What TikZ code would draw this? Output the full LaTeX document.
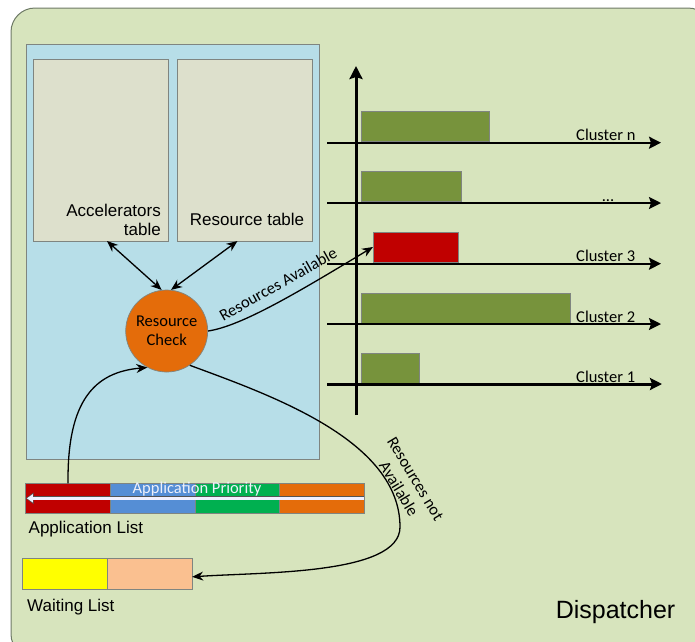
\documentclass[tikz,border=0pt]{standalone}
\usepackage{fontspec}
\setmainfont{Liberation Sans}
\newfontfamily\calibri{Carlito}
\usetikzlibrary{arrows.meta}

\definecolor{outerbg}{HTML}{D7E4BD}
\definecolor{outerline}{HTML}{6E7A66}
\definecolor{panelbg}{HTML}{B7DEE8}
\definecolor{tablebg}{HTML}{DDE0CC}
\definecolor{boxline}{HTML}{7F8580}
\definecolor{checkorange}{HTML}{E46C0A}
\definecolor{loadgreen}{HTML}{77933C}
\definecolor{busyred}{HTML}{C00000}
\definecolor{appblue}{HTML}{558ED5}
\definecolor{appgreen}{HTML}{00B050}
\definecolor{appyellow}{HTML}{FFFF00}
\definecolor{apppeach}{HTML}{FAC090}
\definecolor{prioritytext}{HTML}{EEF0FA}

\begin{document}
\begin{tikzpicture}[x=1pt,y=-1pt,
  panel/.style={draw=boxline, line width=0.8pt, inner sep=0pt, outer sep=0pt, anchor=north west},
  tablebox/.style={panel, fill=tablebg, minimum width=135pt, minimum height=182pt},
  bar/.style={draw=boxline, line width=0.7pt, inner sep=0pt, outer sep=0pt, anchor=north west, minimum height=30pt},
  seg/.style={bar, minimum width=84.7pt},
  arialtext/.style={font=\fontsize{17}{18.5}\selectfont, inner sep=0pt},
  caltext/.style={font=\calibri\fontsize{16.5}{19.5}\selectfont, inner sep=0pt},
  link/.style={line width=1.3pt, draw=black},
  biarrow/.style={link, {Stealth[length=11pt,width=9pt]}-{Stealth[length=11pt,width=9pt]}},
  flow/.style={link, -{Stealth[length=11pt,width=9pt]}},
  haxis/.style={line width=2pt, -{Stealth[length=12pt,width=12pt,inset=2pt]}},
  vaxis/.style={line width=3pt, -{Stealth[length=13pt,width=13pt,inset=2pt]}}
]
\useasboundingbox (0,0) rectangle (695,641);

% dispatcher frame
\begin{scope}
  \clip (0,0) rectangle (695,641);
  \draw[fill=outerbg, draw=outerline, line width=1pt, rounded corners=24pt] (11,8) rectangle (712,658);
\end{scope}

% resource check panel with its two tables
\node[panel, fill=panelbg, minimum width=293pt, minimum height=415pt] (panel) at (26,44) {};
\node[tablebox] (acc) at (33,59) {};
\node[tablebox] (res) at (177,59) {};
\node[arialtext, align=right, anchor=east] (acclabel) at (161,220) {Accelerators\\table};
\node[arialtext] (reslabel) at (247,219) {Resource table};

\node[circle, fill=checkorange, draw=boxline, line width=0.7pt, minimum size=82pt, inner sep=0pt,
      caltext, align=center] (rc) at (166.7,331) {Resource\\Check};

\draw[biarrow] ([xshift=6.5pt]acc.south) -- (rc.97);
\draw[biarrow] ([xshift=-7pt]res.south) -- (rc.84);

% cluster load chart
\node[bar, fill=loadgreen, minimum width=128pt] (cn) at (361,111) {};
\node[bar, fill=loadgreen, minimum width=100pt] (cd) at (361,171.5) {};
\node[bar, fill=busyred, minimum width=85pt] (c3) at (373,232) {};
\node[bar, fill=loadgreen, minimum width=209pt] (c2) at (361,293) {};
\node[bar, fill=loadgreen, minimum width=58pt] (c1) at (361,353) {};

\coordinate (hn0) at (327,142.7); \coordinate (hn1) at (661,142.7);
\coordinate (hd0) at (327,203);   \coordinate (hd1) at (661,203);
\coordinate (h30) at (327,263.7); \coordinate (h31) at (661,263.7);
\coordinate (h20) at (327,324);   \coordinate (h21) at (661,324);
\coordinate (h10) at (327,384);   \coordinate (h11) at (662,384);
\coordinate (vb) at (356,415);    \coordinate (vt) at (356,66);
\draw[haxis] (hn0) -- (hn1);
\draw[haxis] (hd0) -- (hd1);
\draw[haxis] (h30) -- (h31);
\draw[haxis] (h20) -- (h21);
\draw[haxis, line width=3pt] (h10) -- (h11);
\draw[vaxis] (vb) -- (vt);

\node[caltext, anchor=base west] (lcn) at (576,140.5) {Cluster n};
\node[caltext, anchor=base] (lcd) at (608,201) {...};
\node[caltext, anchor=base west] (lc3) at (576,261.7) {Cluster 3};
\node[caltext, anchor=base west] (lc2) at (576,322) {Cluster 2};
\node[caltext, anchor=base west] (lc1) at (576,382) {Cluster 1};

% application list
\node[seg, fill=busyred] (ap1) at (25.7,483.3) {};
\node[seg, fill=appblue] (ap2) at (110.4,483.3) {};
\node[seg, fill=appgreen] (ap3) at (195.1,483.3) {};
\node[seg, fill=checkorange] (ap4) at (279.8,483.3) {};
\node[caltext, text=prioritytext] (prio) at (197,489) {Application Priority};
\coordinate (pr0) at (364.3,498.3);
\coordinate (pr1) at (25.7,498.3);
\draw[line width=4.2pt, draw=gray!65!black, -{Triangle[length=8pt,width=11pt]}] (pr0) -- (pr1);
\draw[line width=2.4pt, draw=white!94!blue, -{Triangle[length=6pt,width=8pt]}, shorten >=1.2pt] (pr0) -- (pr1);
\node[arialtext, anchor=west] (aplabel) at (28.5,529) {Application List};

% waiting list
\node[seg, fill=appyellow, minimum height=30.3pt] (wl1) at (22.7,558.7) {};
\node[seg, fill=apppeach, minimum height=30.3pt] (wl2) at (107.5,558.7) {};
\node[arialtext, anchor=west] (wllabel) at (27,607) {Waiting List};

% dispatching flows
\draw[flow] (ap1.north) .. controls (67,400) and (95,372) .. (rc.242);
\draw[flow] (rc.east) .. controls (242,326) and (300,291) .. (c3.west);
\node[caltext, rotate=29.5] (avail) at (278,284) {Resources Available};
\draw[flow] (rc.304) .. controls (270,395) and (400,440) .. (400,527)
                     .. controls (400,575) and (262,572) .. ([yshift=-3pt]wl2.east);
\node[caltext, rotate=-59, align=center] (navail) at (407,484) {Resources not\\Available};

\node[font=\fontsize{25}{28}\selectfont, inner sep=0pt] (disp) at (615.5,612) {Dispatcher};
\end{tikzpicture}
\end{document}
